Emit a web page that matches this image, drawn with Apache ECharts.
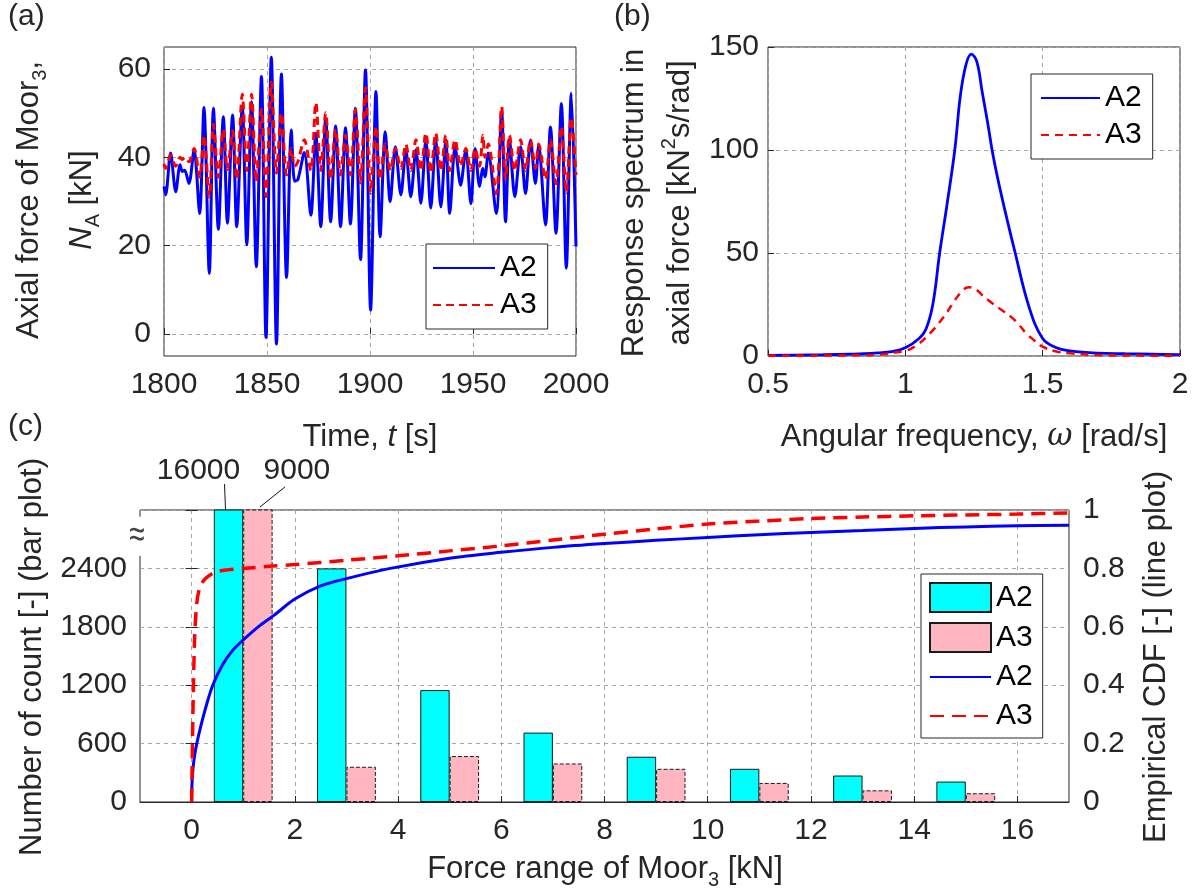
<!DOCTYPE html>
<html><head><meta charset="utf-8">
<script src="https://cdn.jsdelivr.net/npm/echarts@6/dist/echarts.min.js"></script>
<style>html,body{margin:0;padding:0;background:#fff}#c{width:1196px;height:896px}</style>
</head><body><div id="c"></div>
<script>
// ---------- (a) axial force time history ----------
const timeA = [1800,1800.8,1803.2,1805.7,1807.8,1808.9,1810,1812.1,1814.6,1817.3,1819.4,1822,1824,1826.4,1828.8,1830.8,1833.3,1835.3,1838,1840.2,1842.5,1844.8,1847.3,1849.5,1852.1,1854.6,1857,1859.5,1861.8,1863.4,1865,1868.1,1871.3,1873.7,1876.1,1878.5,1880.9,1883.3,1885.7,1888.1,1890.5,1892.9,1895.4,1897.8,1900.3,1902.9,1904.9,1907.4,1909.8,1912.3,1915,1917.4,1919.8,1922.3,1924.7,1927.1,1929.5,1931.9,1934.4,1936.8,1938.7,1941.3,1944,1946.5,1949,1951,1953.2,1954.8,1955.8,1957.4,1961.3,1963.9,1965.8,1967.7,1970.3,1973.1,1975.5,1977.9,1980.3,1981.9,1985.2,1987.6,1990.3,1992.9,1995.3,1997.7,2000];
const forceA2 = [33.4,31.5,41,32.2,38.3,36.8,37.1,34.1,41.7,27.3,
51.3,13.7,51.1,23.7,49.2,25.1,49.6,24.3,51.5,20.2,
52.6,15.2,58.3,-0.8,62.7,-2.3,58.9,12.8,46.2,34.6,
35.0,41.1,26.9,45.4,24.3,48.8,25.4,47.1,24.3,46.7,
24.9,51.1,16.8,59.8,5.4,54.9,22,45.8,30,42.4,
31.5,41.7,31.1,41.7,29.6,43.9,28.5,43.9,28.8,43.9,
27.3,42.4,33.7,41.7,29.5,42,33.4,37.5,35.6,41,
27.3,50.3,25.4,44.1,31.1,42.4,31.8,43.9,34.1,42.8,
24.7,46.9,22.8,52.2,14.9,54.5,19.8];
const forceA3 = [38.5,37.5,40.5,38,40,39.5,40,39,42,35.5,
45,31,47.5,35.5,46.3,37.2,46,35,54.3,37,
54.3,34.5,50.9,31.1,57,36.4,50,36,42,38,
39,44,37,52.4,37,50.1,35,46.3,36,45,
36,50.9,34.2,55.8,31.9,47,35,43,37,42,
37.5,43,37,44,37,45.5,36.5,45.5,37,45,
37,44,38,42,37,42,38,45,40,43,
31.8,51.5,35,45,37,44,37,44,37.5,43,
35,44,34,47,32,49,36];
const tickAy = [0,20,40,60];

// ---------- (b) response spectrum ----------
const freqA2 = [0.5,0.6,0.7,0.8,0.85,0.9,0.95,1.0,1.05,1.075,1.1,1.125,1.15,1.18,1.2,1.22,1.24,1.26,1.28,1.3,1.32,1.35,1.4,1.45,1.5,1.55,1.6,1.7,1.8,1.9,2.0];
const specA2 = [0.3,0.4,0.6,0.9,1.1,1.5,2.1,4,8.5,13,25,50,72,100,126,141,146.5,143,128,113,97,78,50,24,8.5,4,2.5,1.4,1.1,0.9,0.7];
const freqA3 = [0.5,0.7,0.8,0.9,0.93,0.97,1.0,1.02,1.05,1.09,1.14,1.18,1.21,1.23,1.26,1.28,1.3,1.34,1.385,1.415,1.44,1.47,1.5,1.55,1.6,1.72,1.85,2.0];
const specA3 = [0.1,0.2,0.3,0.6,1,1.8,2.5,3.5,6,11,19,27,32,33.4,32,29.5,27.3,23.3,19,15,11,7.5,4.5,2.2,1.3,0.4,0.2,0.1];

// ---------- (c) force-range histogram + empirical CDF ----------
const binCenters = [1,3,5,7,9,11,13,15];
const countA2 = [16000,2400,1150,713,465,341,272,210];
const countA3 = [9000,362,472,396,341,196,120,90];
const cdfXA2 = [0,0.005,0.02,0.05,0.1,0.2,0.3,0.41,0.6,0.8,1.0,1.29,1.6,2.0,2.5,3.0,3.85,5,6,7,8,9,10,11,12,13,14,15,16,17];
const cdfA2 = [0,0.05,0.1,0.15,0.2,0.275,0.34,0.4,0.47,0.52,0.555,0.6,0.64,0.695,0.74,0.765,0.8,0.835,0.855,0.872,0.885,0.896,0.906,0.915,0.923,0.93,0.937,0.942,0.946,0.948];
const cdfXA3 = [0,0.01,0.03,0.06,0.1,0.15,0.22,0.3,0.45,0.7,1.0,1.5,2,3,4,5,6,7,8,9,10,11,12,13,14,15,16,17];
const cdfA3 = [0,0.12,0.35,0.57,0.68,0.73,0.755,0.77,0.787,0.795,0.8,0.807,0.813,0.828,0.843,0.86,0.877,0.897,0.917,0.935,0.952,0.962,0.971,0.976,0.98,0.983,0.986,0.99];
const tickCx = [0,2,4,6,8,10,12,14,16];
const countAxisMax = 3000;

// ---------- helpers ----------
const FF = '"Liberation Sans", Arial, Helvetica, sans-serif';
const TXT = '#262626';
const GRIDC = '#a6a6a6';
const BLUE = '#0000ff', RED = '#ff0000';
const zip = (xs, ys) => xs.map((x, i) => [x, ys[i]]);

function axisBase(extra) {
  const base = {
    type: 'value',
    axisLine: {show: false},
    axisTick: {show: true, inside: true, length: 6, lineStyle: {color: TXT}},
    axisLabel: {fontSize: 30, color: TXT, fontFamily: FF, margin: 13, formatter: v => String(v)},
    splitLine: {show: true, lineStyle: {color: GRIDC, type: [4, 4], width: 1}}
  };
  for (const k in extra) {
    if (base[k] && typeof base[k] === 'object' && !Array.isArray(base[k]) && typeof extra[k] === 'object') {
      base[k] = Object.assign({}, base[k], extra[k]);
    } else base[k] = extra[k];
  }
  return base;
}
const gridBox = {show: true, borderColor: '#262626', borderWidth: 1, backgroundColor: 'rgba(0,0,0,0)'};

const legendBase = {
  orient: 'vertical', selectedMode: false,
  borderColor: '#262626', borderWidth: 1, backgroundColor: '#fff',
  textStyle: {fontSize: 30, color: '#000', fontFamily: FF},
  formatter: n => n.split('-')[1]
};
const noSym = {color: 'rgba(0,0,0,0)', borderColor: 'rgba(0,0,0,0)', borderWidth: 0, opacity: 0};
const lineItem = name => ({name: name, itemStyle: noSym});
const barItem = name => ({name: name, icon: 'rect'});

const option = {
  animation: false,
  backgroundColor: '#fff',
  textStyle: {fontFamily: FF},
  grid: [
    Object.assign({left: 164, top: 47, width: 412, height: 309}, gridBox),
    Object.assign({left: 768, top: 47, width: 412, height: 309}, gridBox),
    Object.assign({left: 140, top: 510, width: 929, height: 292}, gridBox)
  ],
  xAxis: [
    axisBase({gridIndex: 0, min: 1800, max: 2000, interval: 50, axisLabel: {margin: 14}}),
    axisBase({gridIndex: 1, min: 0.5, max: 2, interval: 0.5, axisLabel: {margin: 14}}),
    axisBase({gridIndex: 2, min: -1, max: 17,
      axisLabel: {margin: 14, customValues: tickCx}, axisTick: {customValues: tickCx}}),
    {type: 'value', gridIndex: 2, position: 'top', min: -1, max: 17, z: 10,
      axisLine: {show: true, lineStyle: {color: '#262626', width: 1}},
      axisTick: {show: false}, axisLabel: {show: false}, splitLine: {show: false}}
  ],
  yAxis: [
    axisBase({gridIndex: 0, min: -5, max: 65,
      axisLabel: {customValues: tickAy}, axisTick: {customValues: tickAy}}),
    axisBase({gridIndex: 1, min: 0, max: 150, interval: 50, axisLabel: {margin: 9}}),
    axisBase({gridIndex: 2, min: 0, max: countAxisMax, interval: 600,
      axisLabel: {formatter: v => (v >= countAxisMax ? '' : String(v))}}),
    axisBase({gridIndex: 2, position: 'right', min: 0, max: 1, interval: 0.2,
      splitLine: {show: false}, axisLabel: {margin: 14}})
  ],
  legend: [
    Object.assign({left: 426, top: 244, data: [lineItem('a-A2'), lineItem('a-A3')], itemWidth: 62, itemHeight: 14,
      itemGap: 7, padding: [9, 11, 9, 6]}, legendBase),
    Object.assign({left: 1031, top: 74, data: [lineItem('b-A2'), lineItem('b-A3')], itemWidth: 59, itemHeight: 14,
      itemGap: 7, padding: [9, 11, 9, 9]}, legendBase),
    Object.assign({left: 921, top: 574,
      data: [barItem('cb-A2'), barItem('cb-A3'), lineItem('cl-A2'), lineItem('cl-A3')], itemWidth: 61,
      itemHeight: 29, itemGap: 9, padding: [8, 10, 7, 8]}, legendBase)
  ],
  series: [
    {name: 'a-A2', type: 'line', xAxisIndex: 0, yAxisIndex: 0, data: zip(timeA, forceA2),
      symbol: 'none', smooth: 0.3, lineStyle: {color: BLUE, width: 3}, itemStyle: {color: BLUE}, z: 3},
    {name: 'a-A3', type: 'line', xAxisIndex: 0, yAxisIndex: 0, data: zip(timeA, forceA3),
      symbol: 'none', smooth: 0.3, lineStyle: {color: RED, width: 3, type: [8, 5]}, itemStyle: {color: RED}, z: 4},
    {name: 'b-A2', type: 'line', xAxisIndex: 1, yAxisIndex: 1, data: zip(freqA2, specA2),
      symbol: 'none', smooth: 0.4, lineStyle: {color: BLUE, width: 2.8}, itemStyle: {color: BLUE}, z: 3},
    {name: 'b-A3', type: 'line', xAxisIndex: 1, yAxisIndex: 1, data: zip(freqA3, specA3),
      symbol: 'none', smooth: 0.4, lineStyle: {color: RED, width: 2.5, type: [8, 6]}, itemStyle: {color: RED}, z: 4},
    {name: 'cb-A2', type: 'bar', xAxisIndex: 2, yAxisIndex: 2, data: zip(binCenters, countA2),
      barWidth: 29.4, barGap: '0%', itemStyle: {color: '#00ffff', borderColor: '#1a1a1a', borderWidth: 1}, z: 2},
    {name: 'cb-A3', type: 'bar', xAxisIndex: 2, yAxisIndex: 2, data: zip(binCenters, countA3),
      barWidth: 29.4, barGap: '0%', itemStyle: {color: '#ffb6c1', borderColor: '#1a1a1a', borderWidth: 1, borderType: 'dashed'}, z: 2},
    {name: 'cl-A2', type: 'line', xAxisIndex: 2, yAxisIndex: 3, data: zip(cdfXA2, cdfA2),
      symbol: 'none', smooth: 0.3, lineStyle: {color: BLUE, width: 3}, itemStyle: {color: BLUE}, z: 5},
    {name: 'cl-A3', type: 'line', xAxisIndex: 2, yAxisIndex: 3, data: zip(cdfXA3, cdfA3),
      symbol: 'none', smooth: 0.3, lineStyle: {color: RED, width: 3.5, type: [14, 8]}, itemStyle: {color: RED}, z: 6}
  ]
};

const chart = echarts.init(document.getElementById('c'), null, {renderer: 'canvas'});
chart.setOption(option);

// ---------- text overlays ----------
function richSet(LH, fs) {
  const h = LH - 22;
  return {
    n: {fontSize: fs, fontFamily: FF, lineHeight: LH, fill: TXT},
    i: {fontSize: fs, fontFamily: FF, fontStyle: 'italic', lineHeight: LH, fill: TXT},
    w: {fontSize: fs, fontFamily: '"DejaVu Serif", serif', fontStyle: 'italic', lineHeight: LH, fill: TXT},
    s: {fontSize: 20, fontFamily: FF, lineHeight: h, height: h, verticalAlign: 'bottom', fill: TXT},
    u: {fontSize: 20, fontFamily: FF, lineHeight: h, height: h, verticalAlign: 'top', fill: TXT}
  };
}
function title(x, y, text, LH, rot) {
  return {type: 'text', x: x, y: y, rotation: rot ? Math.PI / 2 : 0, silent: true, z: 100,
    style: {text: text, rich: richSet(LH, 31), align: 'center', verticalAlign: 'middle',
      fill: TXT, fontSize: 31, fontFamily: FF}};
}
function plain(x, y, text, fs, align, vAlign, extra) {
  return {type: 'text', x: x, y: y, silent: true, z: 100,
    style: Object.assign({text: text, fontSize: fs, fontFamily: FF, fill: TXT,
      align: align || 'left', verticalAlign: vAlign || 'top'}, extra || {})};
}

const pTop = chart.convertToPixel({xAxisIndex: 2, yAxisIndex: 2}, [binCenters[0], countAxisMax]);
const halfW = 29.4 / 2;
const cx1 = pTop[0] - halfW, cx2 = pTop[0] + halfW, ty = pTop[1];
const pBreak = chart.convertToPixel({xAxisIndex: 2, yAxisIndex: 2}, [-1, 2730]);

const breakMark = {type: 'text', x: pBreak[0] - 3, y: pBreak[1], scaleY: 1.4, silent: true, z: 100,
  style: {text: '≈', fontSize: 28, fontFamily: FF, fill: '#444',
    align: 'center', verticalAlign: 'middle', backgroundColor: '#fff', padding: [0, 0]}};

chart.setOption({graphic: [
  plain(8, 412, '(c)', 30),
  plain(8, 2, '(a)', 30),
  plain(614, 2, '(b)', 30),
  title(56, 200, '{n|Axial force of Moor}{s|3}{n|,}\n{i|N}{s|A}{n| [kN]}', 53, true),
  title(370, 437, '{n|Time, }{i|t}{n| [s]}', 36, false),
  title(657, 203, '{n|Response spectrum in}\n{n|axial force [kN}{u|2}{n|s/rad]}', 46, true),
  title(974, 437, '{n|Angular frequency, }{w|ω}{n| [rad/s]}', 36, false),
  title(32, 657, '{n|Number of count [-] (bar plot)}', 36, true),
  title(1156, 657, '{n|Empirical CDF [-] (line plot)}', 36, true),
  title(605, 869, '{n|Force range of Moor}{s|3}{n| [kN]}', 36, false),
  breakMark,
  {type: 'line', silent: true, z: 100, shape: {x1: cx1 - 3, y1: ty, x2: cx1 - 4, y2: ty - 26},
    style: {stroke: '#111', lineWidth: 1}},
  {type: 'line', silent: true, z: 100, shape: {x1: cx2 + 2, y1: ty - 3, x2: cx2 + 27, y2: ty - 23},
    style: {stroke: '#111', lineWidth: 1}},
  plain(cx1 - 30, ty - 39, String(countA2[0]), 30, 'center', 'middle'),
  plain(cx2 + 39, ty - 39, String(countA3[0]), 30, 'center', 'middle')
]});
</script>
</body></html>
